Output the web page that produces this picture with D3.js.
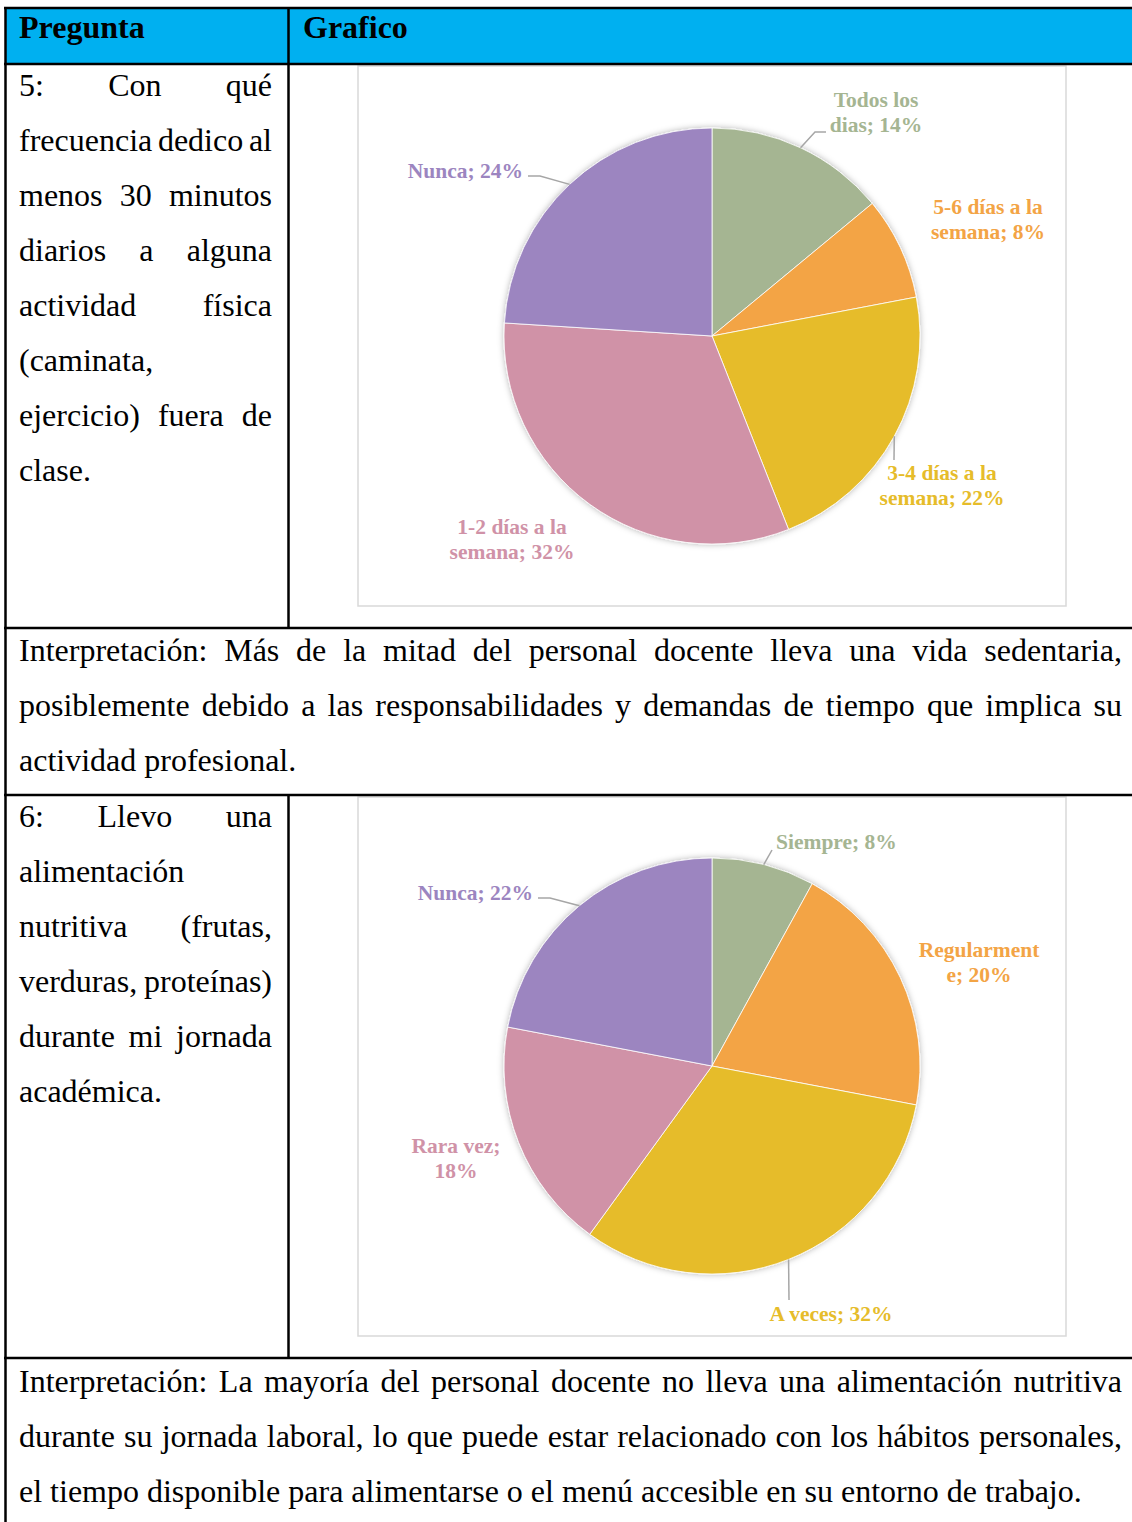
<!DOCTYPE html>
<html>
<head>
<meta charset="utf-8">
<script src="https://cdn.jsdelivr.net/npm/d3@7"></script>
<style>
  body { margin: 0; background: #fff; }
  svg text { font-family: "Liberation Serif", "Times New Roman", serif; }
</style>
</head>
<body>
<div id="page"></div>
<script>
// Data
var q5Labels = ["Todos los\ndias; 14%", "5-6 días a la\nsemana; 8%", "3-4 días a la\nsemana; 22%", "1-2 días a la\nsemana; 32%", "Nunca; 24%"];
var q5Values = [14, 8, 22, 32, 24];

var q6Labels = ["Siempre; 8%", "Regularment\ne; 20%", "A veces; 32%", "Rara vez;\n18%", "Nunca; 22%"];
var q6Values = [8, 20, 32, 18, 22];

var sliceColors = ["#A5B592", "#F3A445", "#E6BC2A", "#D092A7", "#9C85C0"];

var q5Text = ["5: Con qué", "frecuencia dedico al", "menos 30 minutos", "diarios a alguna", "actividad física", "(caminata,", "ejercicio) fuera de", "clase."];
var q6Text = ["6: Llevo una", "alimentación", "nutritiva (frutas,", "verduras, proteínas)", "durante mi jornada", "académica."];
var interp5 = ["Interpretación: Más de la mitad del personal docente lleva una vida sedentaria,",
  "posiblemente debido a las responsabilidades y demandas de tiempo que implica su",
  "actividad profesional."];
var interp6 = ["Interpretación: La mayoría del personal docente no lleva una alimentación nutritiva",
  "durante su jornada laboral, lo que puede estar relacionado con los hábitos personales,",
  "el tiempo disponible para alimentarse o el menú accesible en su entorno de trabajo."];

var W = 1132, H = 1522;
var svg = d3.select("#page").append("svg")
  .attr("width", W)
  .attr("height", H);

var defs = svg.append("defs");
defs.append("filter")
  .attr("id", "shadow")
  .attr("x", "-20%").attr("y", "-20%").attr("width", "140%").attr("height", "140%")
  .append("feDropShadow")
  .attr("dx", 0).attr("dy", 0)
  .attr("stdDeviation", 3)
  .attr("flood-color", "#000")
  .attr("flood-opacity", 0.3);

// header
svg.append("rect")
  .attr("x", 5).attr("y", 8)
  .attr("width", W - 5).attr("height", 56)
  .attr("fill", "#00B0F0");

svg.append("text").attr("x", 19).attr("y", 38)
  .attr("font-size", 32).attr("font-weight", "bold").text("Pregunta");
svg.append("text").attr("x", 303).attr("y", 38)
  .attr("font-size", 32).attr("font-weight", "bold").text("Grafico");

// paragraph with manual justification
function drawPara(lines, x0, x1, y0, step, size) {
  var g = svg.append("g").attr("font-size", size);
  lines.forEach(function(line, i) {
    var y = y0 + i * step;
    var words = line.split(" ");
    var last = i === lines.length - 1;
    if (last || words.length < 2) {
      g.append("text").attr("x", x0).attr("y", y).text(line);
      return;
    }
    var nodes = words.map(function(w) {
      return g.append("text").attr("y", y).text(w);
    });
    var widths = nodes.map(function(n) { return n.node().getComputedTextLength(); });
    var gap = (x1 - x0 - d3.sum(widths)) / (words.length - 1);
    var x = x0;
    nodes.forEach(function(n, j) {
      n.attr("x", x);
      x += widths[j] + gap;
    });
  });
}

drawPara(q5Text, 19, 272, 96, 55, 32);
drawPara(interp5, 19, 1122, 661, 55, 32);
drawPara(q6Text, 19, 272, 827, 55, 32);
drawPara(interp6, 19, 1122, 1392, 55, 32);

// pie charts
var pie = d3.pie().sort(null).value(function(d) { return d; });
var radius = 208;
var arc = d3.arc().innerRadius(0).outerRadius(radius);
var edgeArc = d3.arc().innerRadius(radius).outerRadius(radius);

function drawPie(opts) {
  svg.append("rect")
    .attr("x", opts.box[0]).attr("y", opts.box[1])
    .attr("width", opts.box[2]).attr("height", opts.box[3])
    .attr("fill", "#fff")
    .attr("stroke", "#D9D9D9")
    .attr("stroke-width", 1.5);

  var g = svg.append("g")
    .attr("transform", "translate(" + opts.cx + "," + opts.cy + ")");

  var arcs = pie(opts.values);

  g.append("g")
    .attr("filter", "url(#shadow)")
    .selectAll("path")
    .data(arcs)
    .enter().append("path")
    .attr("d", arc)
    .attr("fill", function(d, i) { return sliceColors[i]; })
    .attr("stroke", "#fff")
    .attr("stroke-width", 0.8);

  // leader lines
  arcs.forEach(function(d, i) {
    var lay = opts.layout[i];
    if (!lay.leader) return;
    var p = edgeArc.centroid(d);
    var pts = [p].concat(lay.leader);
    g.append("path")
      .attr("d", d3.line()(pts))
      .attr("fill", "none")
      .attr("stroke", "#A6A6A6")
      .attr("stroke-width", 1.5);
  });

  // labels
  arcs.forEach(function(d, i) {
    var lay = opts.layout[i];
    var lines = opts.labels[i].split("\n");
    var t = g.append("text")
      .attr("text-anchor", lay.anchor || "middle")
      .attr("font-size", 21.5)
      .attr("font-weight", "bold")
      .attr("fill", sliceColors[i]);
    var top = lay.pos[1] - (lines.length - 1) * 12.5 + 7;
    lines.forEach(function(l, j) {
      t.append("tspan")
        .attr("x", lay.pos[0])
        .attr("y", top + j * 25)
        .text(l);
    });
  });
}

drawPie({
  cx: 712, cy: 336,
  box: [358, 66, 708, 540],
  values: q5Values,
  labels: q5Labels,
  layout: [
    { pos: [164, -224], leader: [[103, -204], [114, -204]] },
    { pos: [276, -117] },
    { pos: [230, 149], leader: [[182, 124]] },
    { pos: [-200, 203] },
    { pos: [-189, -165], anchor: "end", leader: [[-172, -160], [-184, -160]] }
  ]
});

drawPie({
  cx: 712, cy: 1066,
  box: [358, 797, 708, 539],
  values: q6Values,
  labels: q6Labels,
  layout: [
    { pos: [64, -224], anchor: "start", leader: [[60, -216]] },
    { pos: [267, -104] },
    { pos: [119, 248], leader: [[77, 234]] },
    { pos: [-256, 92] },
    { pos: [-179, -173], anchor: "end", leader: [[-162, -168], [-174, -168]] }
  ]
});

// table lines
var grid = svg.append("g")
  .attr("stroke", "#000")
  .attr("stroke-width", 2.5);

[8, 64, 628, 795, 1358].forEach(function(y) {
  grid.append("line").attr("x1", 4).attr("x2", W).attr("y1", y).attr("y2", y);
});
grid.append("line").attr("x1", 5.5).attr("x2", 5.5).attr("y1", 7).attr("y2", H);
[[8, 628], [795, 1358]].forEach(function(r) {
  grid.append("line").attr("x1", 288.5).attr("x2", 288.5).attr("y1", r[0]).attr("y2", r[1]);
});
</script>
</body>
</html>
